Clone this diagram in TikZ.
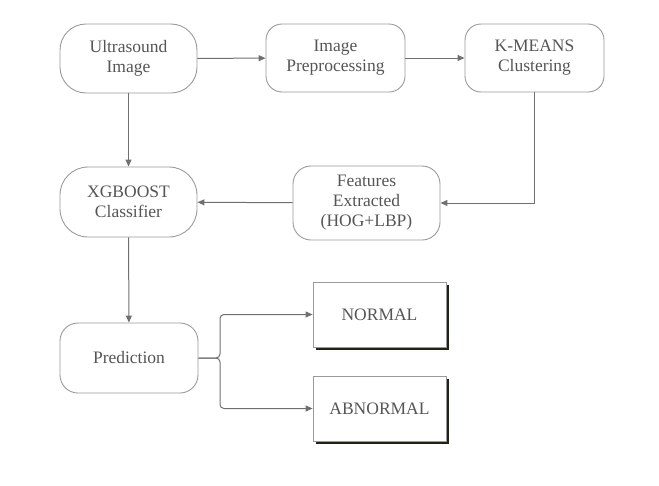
\documentclass[tikz,border=0pt]{standalone}
\usepackage{fontspec}
\setmainfont{Liberation Serif}
\usetikzlibrary{arrows.meta,shadows}
\definecolor{txt}{HTML}{555555}
\definecolor{edge}{HTML}{9A9A9A}
\definecolor{conn}{HTML}{707070}
\definecolor{shad}{HTML}{1E2414}
\tikzset{
  rbox/.style={draw=edge, line width=0.9pt, rounded corners=#1, align=center, text=txt, font=\fontsize{17.5}{20}\selectfont, inner sep=0pt},
  outbox/.style={draw=edge, line width=0.8pt, fill=white, align=center, text=txt, font=\fontsize{17.5}{20}\selectfont, minimum width=133pt, minimum height=65pt,
    drop shadow={shadow xshift=3pt, shadow yshift=-3pt, opacity=1, fill=shad}},
  conn/.style={draw=conn, line width=1pt, -{Triangle[length=7pt,width=6pt]}},
}
\begin{document}
\begin{tikzpicture}[x=1pt,y=-1pt]
\useasboundingbox (0,0) rectangle (659,485);
\node[rbox=26pt, minimum width=137pt, minimum height=69pt] (us) at (128.5,58.5) {Ultrasound\\Image};
\node[rbox=16pt, minimum width=139pt, minimum height=68pt] (pre) at (335.5,58) {Image\\Preprocessing};
\node[rbox=16pt, minimum width=139pt, minimum height=68pt] (km) at (534.5,58) {K-MEANS\\Clustering};
\node[rbox=28pt, minimum width=137pt, minimum height=70pt] (xg) at (128.5,202) {XGBOOST\\Classifier};
\node[rbox=18pt, minimum width=147pt, minimum height=74pt] (fe) at (366.5,203) {Features\\Extracted\\(HOG+LBP)};
\node[rbox=18pt, minimum width=138pt, minimum height=70pt] (pr) at (129,358) {Prediction};
\node[outbox] (no) at (379.5,314.5) {NORMAL};
\node[outbox] (ab) at (379.5,408.5) {ABNORMAL};
\coordinate (kc) at (534.5,203);
\coordinate (br) at (220,358);
\draw[conn] (us) -- (pre);
\draw[conn] (pre) -- (km);
\draw[conn] (us) -- (xg);
\draw[conn] (km.south) -- (kc) -- (fe.east);
\draw[conn] (fe) -- (xg);
\draw[conn] (xg) -- (pr);
\draw[conn, rounded corners=4pt] (pr.east) -- (br) |- (no.west);
\draw[conn, rounded corners=4pt] (pr.east) -- (br) |- (ab.west);
\end{tikzpicture}
\end{document}
